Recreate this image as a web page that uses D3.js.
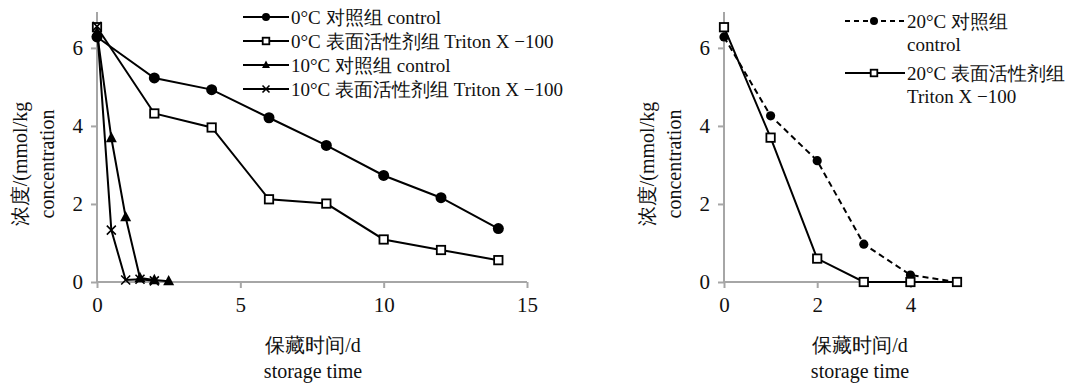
<!DOCTYPE html>
<html>
<head>
<meta charset="utf-8">
<script src="https://cdn.jsdelivr.net/npm/d3@7"></script>
<style>
  body { margin: 0; background: #fff; }
  svg { display: block; }
</style>
</head>
<body>
<svg id="chart" width="1077" height="383" font-family="Liberation Serif"></svg>
<script>
// ---------- data ----------
const leftDaysA = [0, 2, 4, 6, 8, 10, 12, 14];
const c0Control = [6.28, 5.23, 4.93, 4.21, 3.5, 2.73, 2.16, 1.37];
const c0Triton  = [6.53, 4.32, 3.96, 2.12, 2.01, 1.09, 0.82, 0.56];
const c10Days    = [0, 0.5, 1, 1.5, 2, 2.5];
const c10Control = [6.4, 3.69, 1.66, 0.1, 0.05, 0.02];
const c10TritonDays = [0, 0.5, 1, 1.5, 2];
const c10Triton  = [6.55, 1.33, 0.05, 0.07, 0.03];

const rightDays   = [0, 1, 2, 3, 4, 5];
const c20Control  = [6.28, 4.26, 3.11, 0.97, 0.18, 0.0];
const c20Triton   = [6.53, 3.7, 0.6, 0.0, 0.0, 0.0];

const leftXTicks  = [0, 5, 10, 15];
const rightXTicks = [0, 2, 4];
const yTicks      = [0, 2, 4, 6];

const leftLegend = ["0°C 对照组 control", "0°C 表面活性剂组 Triton X −100",
                    "10°C 对照组 control", "10°C 表面活性剂组 Triton X −100"];
const rightLegend = [["20°C 对照组", "control"], ["20°C 表面活性剂组", "Triton X −100"]];
const yTitle = ["浓度/(mmol/kg", "concentration"];
const xTitle = ["保藏时间/d", "storage time"];

// ---------- setup ----------
const FONT = "Liberation Serif";
const TXT = "#111";
const svg = d3.select("#chart");
const AXIS = "#a6a6a6";
const y = d3.scaleLinear().domain([0, 6.92]).range([282, 12]);
const xL = d3.scaleLinear().domain([0, 15]).range([97, 527]);
const xR = d3.scaleLinear().domain([0, 5]).range([724, 957]);

function setFont(sel, size) {
  sel.attr("font-family", FONT).style("font-family", '"Liberation Serif"')
     .attr("font-size", size).style("font-size", size + "px").attr("fill", TXT);
}
function txt(g, size) {
  const t = g.append("text");
  setFont(t, size);
  return t;
}

function drawAxes(x, xticks, xMaxVal) {
  const gx = svg.append("g").attr("transform", `translate(0,${y(0)})`)
    .call(d3.axisBottom(x).tickValues(xticks).tickFormat(d3.format("d"))
      .tickSize(6).tickPadding(9).tickSizeOuter(0));
  gx.attr("font-family", FONT);
  gx.select(".domain").attr("stroke", AXIS).attr("stroke-width", 2)
    .attr("d", `M${x(0)},0H${x(xMaxVal)}`);
  gx.selectAll(".tick line").attr("stroke", AXIS).attr("stroke-width", 2);
  gx.selectAll(".tick text").call(setFont, 21);

  const gy = svg.append("g").attr("transform", `translate(${x(0)},0)`)
    .call(d3.axisLeft(y).tickValues(yTicks).tickFormat(d3.format("d"))
      .tickSize(6).tickPadding(8).tickSizeOuter(0));
  gy.attr("font-family", FONT);
  gy.select(".domain").attr("stroke", AXIS).attr("stroke-width", 2)
    .attr("d", `M0,${y(0)}V${y(6.92)}`);
  gy.selectAll(".tick line").attr("stroke", AXIS).attr("stroke-width", 2);
  gy.selectAll(".tick text").call(setFont, 21);

  // y title
  const cy = 164;
  [[x(0) - 77, yTitle[0]], [x(0) - 50, yTitle[1]]].forEach(([px, t]) => {
    txt(svg, 20)
      .attr("transform", `translate(${px},${cy}) rotate(-90)`)
      .attr("text-anchor", "middle").attr("dominant-baseline", "central")
      .text(t);
  });
}

function drawXTitle(cx) {
  txt(svg, 20).attr("x", cx).attr("y", 345)
    .attr("text-anchor", "middle").attr("dominant-baseline", "central")
    .text(xTitle[0]);
  txt(svg, 20).attr("x", cx).attr("y", 371)
    .attr("text-anchor", "middle").attr("dominant-baseline", "central")
    .text(xTitle[1]);
}

function marker(g, type, cx, cy, s) {
  if (type === "circle") {
    g.append("circle").attr("cx", cx).attr("cy", cy).attr("r", s).attr("fill", "#000");
  } else if (type === "square") {
    g.append("rect").attr("x", cx - s).attr("y", cy - s).attr("width", 2 * s).attr("height", 2 * s)
      .attr("fill", "#fff").attr("stroke", "#000").attr("stroke-width", 1.8);
  } else if (type === "triangle") {
    g.append("path").attr("d", `M${cx},${cy - s * 1.15}L${cx + s},${cy + s * 0.75}L${cx - s},${cy + s * 0.75}Z`)
      .attr("fill", "#000");
  } else if (type === "cross") {
    g.append("path").attr("d", `M${cx - s},${cy - s}L${cx + s},${cy + s}M${cx - s},${cy + s}L${cx + s},${cy - s}`)
      .attr("stroke", "#000").attr("stroke-width", 1.6).attr("fill", "none");
  }
}

function series(x, xs, ys, type, size, dash) {
  const g = svg.append("g");
  const pts = xs.map((d, i) => [x(d), y(ys[i])]);
  g.append("path").attr("d", d3.line()(pts)).attr("fill", "none")
    .attr("stroke", "#000").attr("stroke-width", 2)
    .attr("stroke-dasharray", dash || null);
  pts.forEach(p => marker(g, type, p[0], p[1], size));
}

// ---------- left chart ----------
drawAxes(xL, leftXTicks, 15);
drawXTitle(313);
series(xL, leftDaysA, c0Control, "circle", 5.5);
series(xL, leftDaysA, c0Triton, "square", 4.2);
series(xL, c10Days, c10Control, "triangle", 5.5);
series(xL, c10TritonDays, c10Triton, "cross", 4.5);

// left legend
const legTypes = ["circle", "square", "triangle", "cross"];
const legSizes = [4, 3.3, 4, 3.5];
leftLegend.forEach((t, i) => {
  const ly = 17 + i * 24;
  svg.append("line").attr("x1", 243).attr("x2", 289).attr("y1", ly).attr("y2", ly)
    .attr("stroke", "#000").attr("stroke-width", 2);
  marker(svg, legTypes[i], 266, ly, legSizes[i]);
  txt(svg, 19).attr("x", 291).attr("y", ly)
    .attr("dominant-baseline", "central").text(t);
});

// ---------- right chart ----------
drawAxes(xR, rightXTicks, 5);
drawXTitle(860);
series(xR, rightDays, c20Control, "circle", 4.6, "6,4");
series(xR, rightDays, c20Triton, "square", 4.2);

// right legend
rightLegend.forEach((lines, i) => {
  const ly = 21 + i * 52;
  svg.append("line").attr("x1", 845).attr("x2", 905).attr("y1", ly).attr("y2", ly)
    .attr("stroke", "#000").attr("stroke-width", 2).attr("stroke-dasharray", i === 0 ? "5,4" : null);
  marker(svg, i === 0 ? "circle" : "square", 874, ly, i === 0 ? 4 : 3.3);
  lines.forEach((t, j) => {
    txt(svg, 19).attr("x", 907).attr("y", ly + j * 23)
      .attr("dominant-baseline", "central").text(t);
  });
});
</script>
</body>
</html>
